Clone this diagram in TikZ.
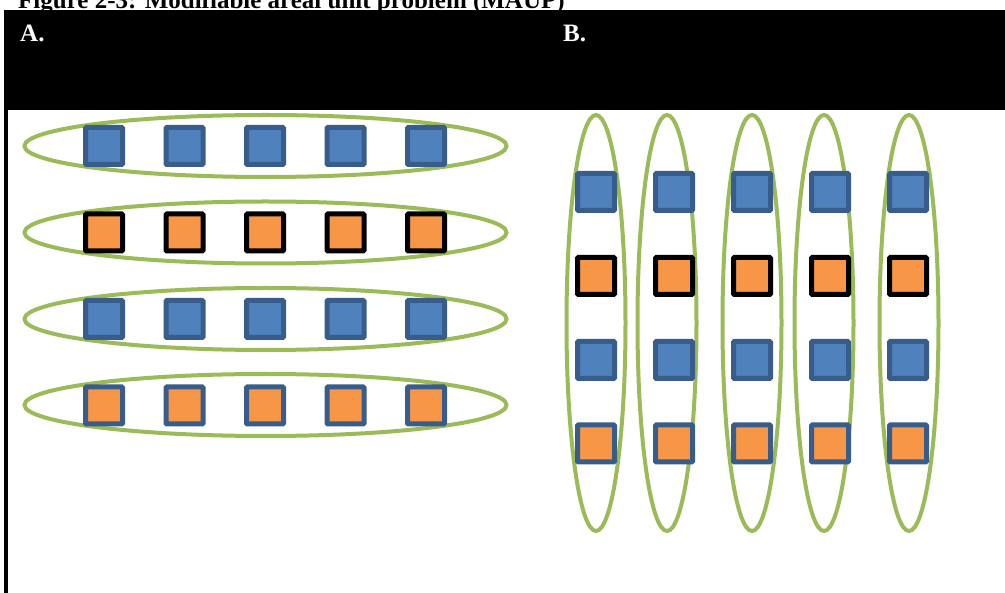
\documentclass[tikz,border=0pt]{standalone}
\usepackage{fontspec}
\setmainfont{Liberation Serif}
\usetikzlibrary{shapes.geometric}

\definecolor{cellblue}{HTML}{4F81BD}
\definecolor{celledge}{HTML}{385D8A}
\definecolor{cellorange}{HTML}{F79646}
\definecolor{zonegreen}{HTML}{9BBB59}

\tikzset{
  cell/.style={draw=celledge, line width=5pt, minimum size=37pt,
    inner sep=0pt, outer sep=0pt, rounded corners=1pt},
  bluecell/.style={cell, fill=cellblue},
  orangecell/.style={cell, fill=cellorange},
  blackcell/.style={cell, fill=cellorange, draw=black},
  zone/.style={ellipse, draw=zonegreen, line width=4pt, inner sep=0pt, outer sep=0pt},
  rowzone/.style={zone, minimum width=482pt, minimum height=62pt},
  colzone/.style={zone, minimum width=59pt, minimum height=416pt},
  panellabel/.style={text=white, font=\bfseries\fontsize{25}{30}\selectfont, anchor=base west, inner sep=0pt}
}

\begin{document}
\begin{tikzpicture}[x=1pt, y=-1pt]
    \useasboundingbox (0,0) rectangle (1005,593);
    \clip (0,0) rectangle (1005,593);

    % Caption and header band
    \node[anchor=base west, inner sep=0pt, font=\bfseries\fontsize{25}{30}\selectfont] (caption) at (18,8.5)
        {Figure 2-3: Modifiable areal unit problem (MAUP)};
    \fill[black] (4,10) rectangle (1005,110);
    \fill[black] (3.5,110) rectangle (7.5,593);
    \node[panellabel] (labA) at (20,42) {A.};
    \node[panellabel] (labB) at (563,42) {B.};

    % A: zones grouping the rows
    \foreach \r/\y in {1/146, 2/232.5, 3/319, 4/405}
        \node[rowzone] (ra\r) at (265.5,\y) {};

    % A: cells
    \foreach \c in {1,...,5} {
        \node[bluecell]   (a1\c) at ({104+80.5*(\c-1)},146) {};
        \node[blackcell]  (a2\c) at ({104+80.5*(\c-1)},232.5) {};
        \node[bluecell]   (a3\c) at ({104+80.5*(\c-1)},319) {};
        \node[orangecell] (a4\c) at ({104+80.5*(\c-1)},405.5) {};
    }

    % B: zones grouping the columns
    \foreach \c/\x in {1/596, 2/667, 3/752, 4/824, 5/909}
        \node[colzone] (cb\c) at (\x,323) {};

    % B: cells
    \foreach \c in {1,...,5} {
        \node[bluecell]   (b1\c) at ({596+78*(\c-1)},192) {};
        \node[blackcell]  (b2\c) at ({596+78*(\c-1)},276) {};
        \node[bluecell]   (b3\c) at ({596+78*(\c-1)},360) {};
        \node[orangecell] (b4\c) at ({596+78*(\c-1)},443.5) {};
    }
\end{tikzpicture}
\end{document}
